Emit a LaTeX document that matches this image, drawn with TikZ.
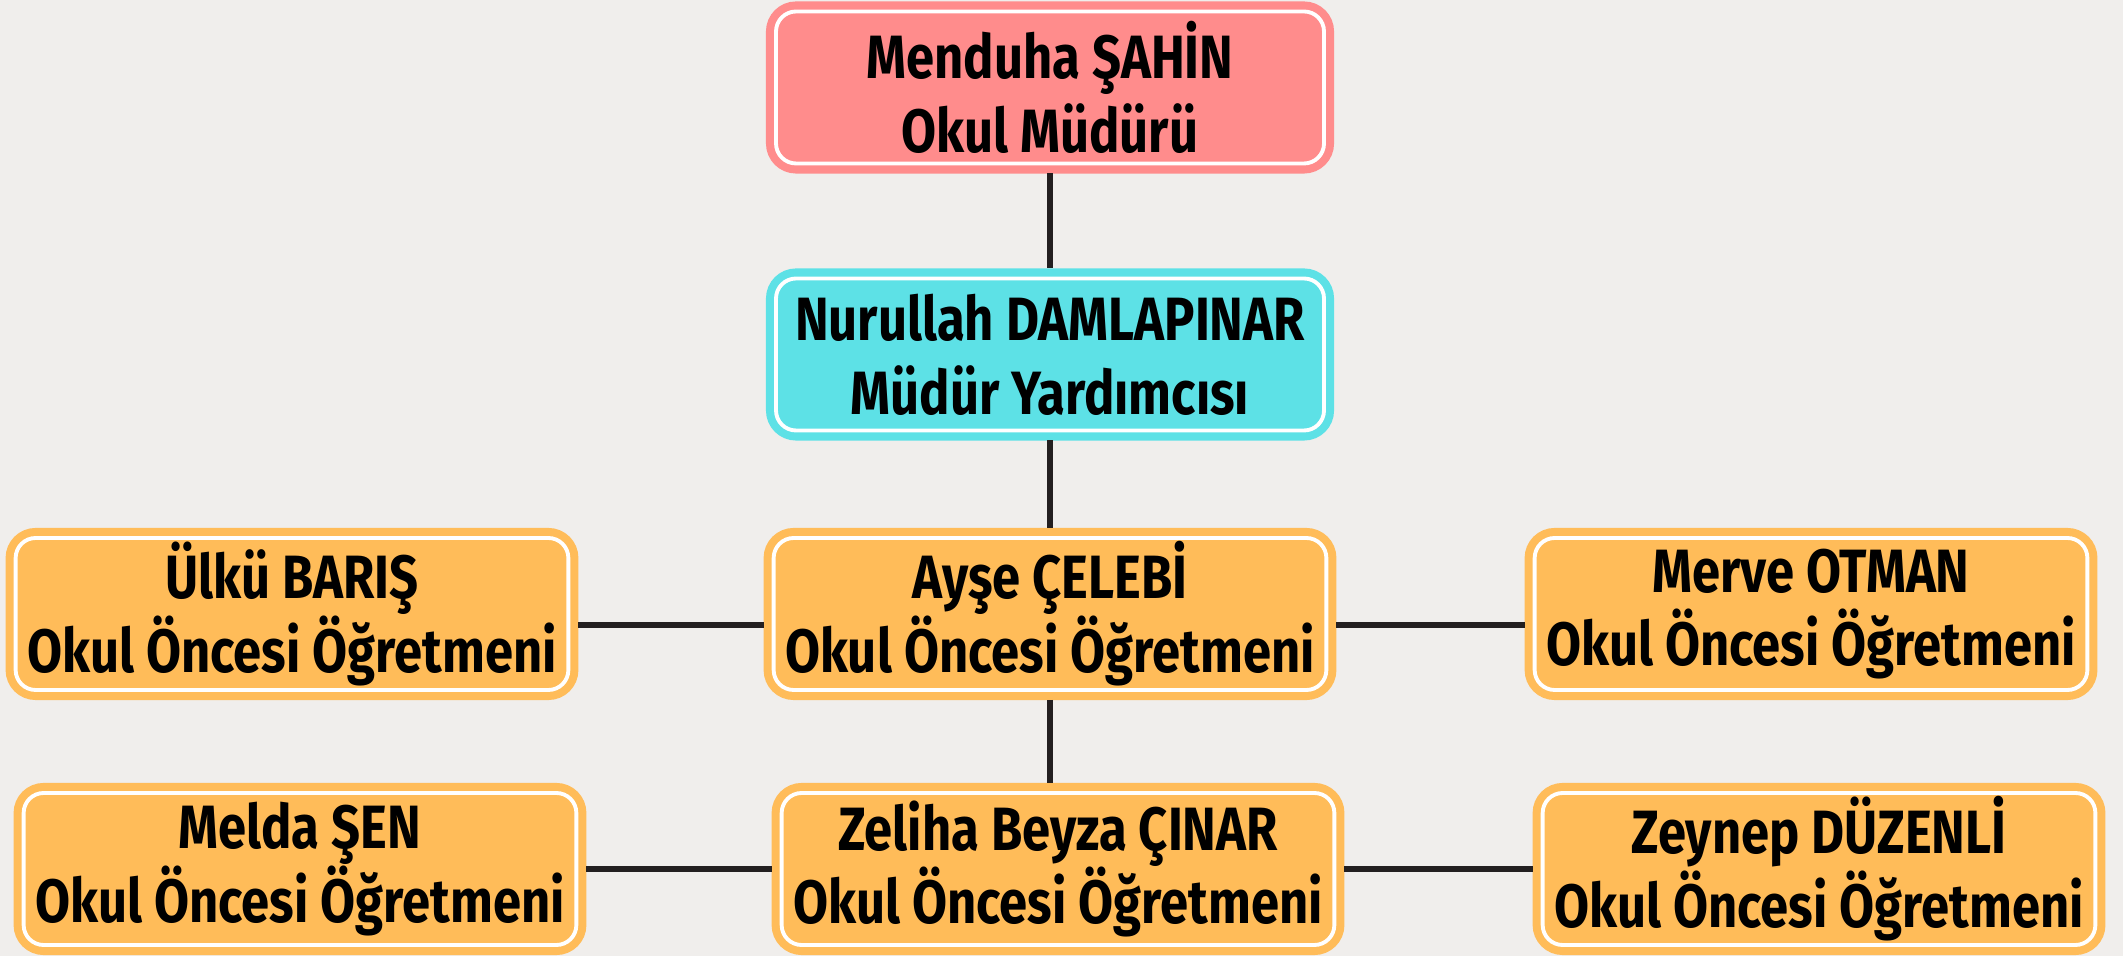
\documentclass[tikz,border=0pt]{standalone}
\usepackage{fontspec}
\newfontfamily\orgfont{Fira Sans}[FakeStretch=0.83]
\usetikzlibrary{positioning}
\definecolor{bgGray}{HTML}{F0EEEC}
\definecolor{headPink}{HTML}{FF8C8C}
\definecolor{vicePink}{HTML}{5DE1E6}
\definecolor{staffOrange}{HTML}{FFBC59}
\definecolor{lineBlack}{HTML}{231F20}
\tikzset{
    orgBox/.style={
		rectangle, rounded corners=0.2cm, fill=#1, draw=#1,
		double=white, double distance=1.1pt, line width=2.3pt,
		minimum width=5.48cm, minimum height=1.52cm, outer sep=0.1cm,
		inner ysep=0.5pt,
		align=center, font=\orgfont\bfseries\fontsize{17.4}{21}\selectfont
	},
    link/.style={lineBlack, line width=1.5pt}
}
\begin{document}
\begin{tikzpicture}
	\fill[bgGray] (0,0) rectangle (21.23,9.56);
	\useasboundingbox (0,0) rectangle (21.23,9.56);
	\node[orgBox=headPink] (mudur) at (10.50,8.685) {Menduha ŞAHİN\\Okul Müdürü};
	\node[orgBox=vicePink] (yardimci) at (10.50,6.015) {Nurullah DAMLAPINAR\\Müdür Yardımcısı};
	\node[orgBox=staffOrange] (ulku) at (2.92,3.42) {Ülkü BARIŞ\\Okul Öncesi Öğretmeni};
	\node[orgBox=staffOrange] (ayse) at (10.50,3.42) {Ayşe ÇELEBİ\\Okul Öncesi Öğretmeni};
	\node[orgBox=staffOrange] (merve) at (18.11,3.42) {Merve OTMAN\\Okul Öncesi Öğretmeni};
	\node[orgBox=staffOrange] (melda) at (3.00,0.87) {Melda ŞEN\\Okul Öncesi Öğretmeni};
	\node[orgBox=staffOrange] (zeliha) at (10.58,0.87) {Zeliha Beyza ÇINAR\\Okul Öncesi Öğretmeni};
	\node[orgBox=staffOrange] (zeynep) at (18.19,0.87) {Zeynep DÜZENLİ\\Okul Öncesi Öğretmeni};
	% connectors
	\draw[link] (mudur) -- (yardimci);
	\draw[link] (yardimci) -- (ayse);
	\draw[link] ([yshift=-1.1mm]ayse.west) -- ([yshift=-1.1mm]ulku.east);
	\draw[link] ([yshift=-1.1mm]ayse.east) -- ([yshift=-1.1mm]merve.west);
	\draw[link] (ayse.south) -- (ayse.south |- zeliha.north);
	\draw[link] (zeliha) -- (melda);
	\draw[link] (zeliha) -- (zeynep);
\end{tikzpicture}
\end{document}
